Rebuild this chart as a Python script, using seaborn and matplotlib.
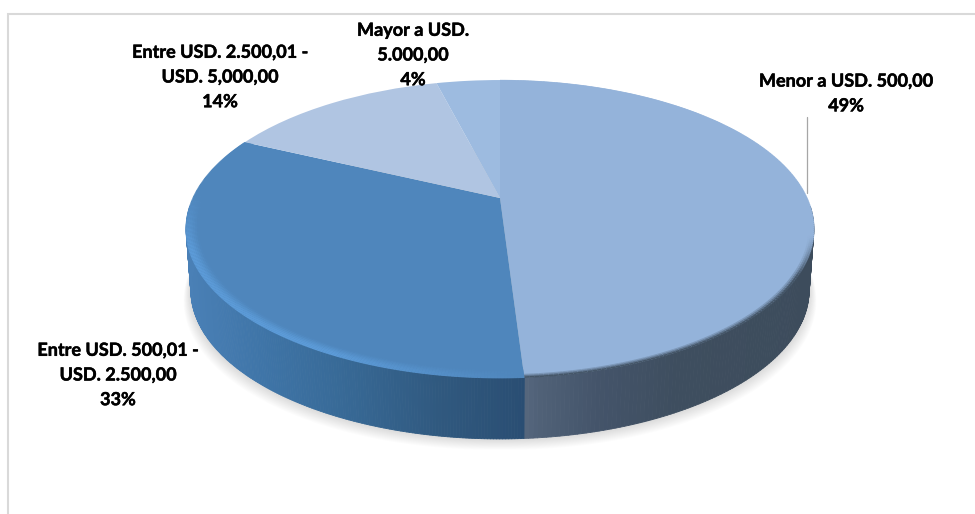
import numpy as np
import matplotlib
matplotlib.use("Agg")
import matplotlib.pyplot as plt
import matplotlib.patheffects as pe
import seaborn as sns
from matplotlib.collections import PolyCollection
from matplotlib.colors import to_rgb
from matplotlib.transforms import Transform

categories = ["Menor a USD. 500,00", "Entre USD. 500,01 -\nUSD. 2.500,00",
              "Entre USD. 2.500,01 -\nUSD. 5,000,00", "Mayor a USD.\n5.000,00"]
values = [49, 33, 14, 4]
top_colors = ["#94b3da", "#4f86bc", "#b0c5e2", "#9dbbe0"]

sns.set_theme(style="white")
plt.rcParams["font.family"] = ["Lato", "DejaVu Sans"]


class Perspective(Transform):
    """Tilts the unit pie disc into page pixels."""
    input_dims = 2
    output_dims = 2
    is_separable = False
    has_inverse = False
    CX, CY, A, B, P = 500.0, 198.0, 307.0, 142.5, 0.208

    def transform_non_affine(self, values):
        v = np.asarray(values, float)
        w = 1 + self.P * v[:, 1]
        return np.column_stack((self.CX + self.A * v[:, 0] / w, self.CY - self.B * v[:, 1] / w))


persp = Perspective()
DEPTH = 61.0

fig = plt.figure(figsize=(9.75, 5.14), dpi=100, facecolor="white")
ax = fig.add_axes([0, 0, 1, 1])

wedges, _ = ax.pie(values, startangle=90, counterclock=False,
                   colors=sns.color_palette(top_colors), radius=1,
                   wedgeprops=dict(linewidth=0, edgecolor="none", zorder=5))
for w in wedges:
    w.set_transform(persp + ax.transData)
ax.set_aspect("auto")
ax.set_xlim(0, 975)
ax.set_ylim(514, 0)
ax.axis("off")

# clockwise angle from 12 o'clock
edges = np.concatenate(([0], np.cumsum(values))) / np.sum(values) * 2 * np.pi


def rim(th, r=1.0):
    return persp.transform(np.column_stack((r * np.sin(th), r * np.cos(th))))


def lower(pts, shrink=0.985):
    out = pts.copy()
    out[:, 0] = 500 + (out[:, 0] - 500) * shrink
    out[:, 1] += DEPTH
    return out


def ramp(x, xs, cols):
    c = np.array([to_rgb(k) for k in cols])
    return np.column_stack([np.interp(x, xs, c[:, i]) for i in range(3)])


# soft shadow under the pie
th_all = np.linspace(0, 2 * np.pi, 361)
base = lower(rim(th_all))
for k in range(1, 13):
    shadow = base + np.array([0, 0.9 * k])
    ax.fill(shadow[:, 0] + np.sign(shadow[:, 0] - 500) * 0.6 * k, shadow[:, 1],
            color="#8a8a8a", alpha=0.022, lw=0, zorder=1)

# side wall
side_styles = [
    ([525, 545, 600, 680, 815], ["#56677e", "#4f6076", "#44546a", "#3e4e5f", "#3d4c5c"]),
    ([187, 260, 340, 440, 525], ["#4a80b6", "#3f75a8", "#386a97", "#30597f", "#2a4e73"]),
]
for i, (xs, cols) in enumerate(side_styles):
    th = np.linspace(edges[i], edges[i + 1], 260)
    up, dn = rim(th), lower(rim(th))
    vis = up[:, 1] > 205
    polys, fc = [], []
    for j in range(len(th) - 1):
        if vis[j] and vis[j + 1]:
            polys.append([up[j], up[j + 1], dn[j + 1], dn[j]])
            fc.append(ramp(np.array([up[j, 0]]), xs, cols)[0])
    ax.add_collection(PolyCollection(polys, facecolors=fc, edgecolors=fc, linewidths=0.6, zorder=3))

# bevel on the top face
rings = np.linspace(0.962, 1.0, 8)
top_rgb = [np.array(to_rgb(c)) for c in top_colors]
for i, (edge_col, first) in enumerate([("#3f4f60", 0.982), ("#5c9bd8", 0.962)]):
    th = np.linspace(edges[i], edges[i + 1], 240)
    for r0, r1 in zip(rings[:-1], rings[1:]):
        if r0 < first - 1e-6:
            continue
        u = (0.5 * (r0 + r1) - first) / (1 - first)
        a, b = rim(th, r0), rim(th, r1 + 0.002)
        polys, fc = [], []
        for j in range(len(th) - 1):
            if i == 0:
                # the dark blur only shows where the wall is visible below the disc
                gate = np.clip((a[j, 1] - 235) / 40, 0, 1)
                mixw = np.clip(u * 1.1, 0, 1) * gate
                col = top_rgb[0] * (1 - mixw) + np.array(to_rgb(edge_col)) * mixw
            else:
                s = (th[j] - edges[1]) / (edges[2] - edges[1])
                fade = np.clip(s / 0.25, 0, 1) * np.clip((0.8 - s) / 0.18, 0, 1)
                mixw = min(u * 1.4, 1) * fade
                col = top_rgb[1] * (1 - mixw) + np.array(to_rgb(edge_col)) * mixw
            polys.append([a[j], a[j + 1], b[j + 1], b[j]])
            fc.append(col)
        ax.add_collection(PolyCollection(polys, facecolors=fc, edgecolors="none", linewidths=0, zorder=6))

# chart frame
ax.plot([8, 8, 975], [514, 14, 14], color="#d9d9d9", lw=1.5, zorder=0, solid_joinstyle="miter")

# leader line
ax.plot([807, 807], [117, 193], color="#a6a6a6", lw=0.9, zorder=4)

label_pos = [(846, 93.5), (118, 375), (220, 77), (413, 55)]
for cat, val, (x, y) in zip(categories, values, label_pos):
    ax.text(x, y, f"{cat}\n{val}%", ha="center", va="center", multialignment="center",
            fontsize=13, fontweight="bold", color="black", linespacing=1.55, zorder=8,
            path_effects=[pe.withStroke(linewidth=0.35, foreground="black")])

fig.savefig("out.png", dpi=100, facecolor="white")
